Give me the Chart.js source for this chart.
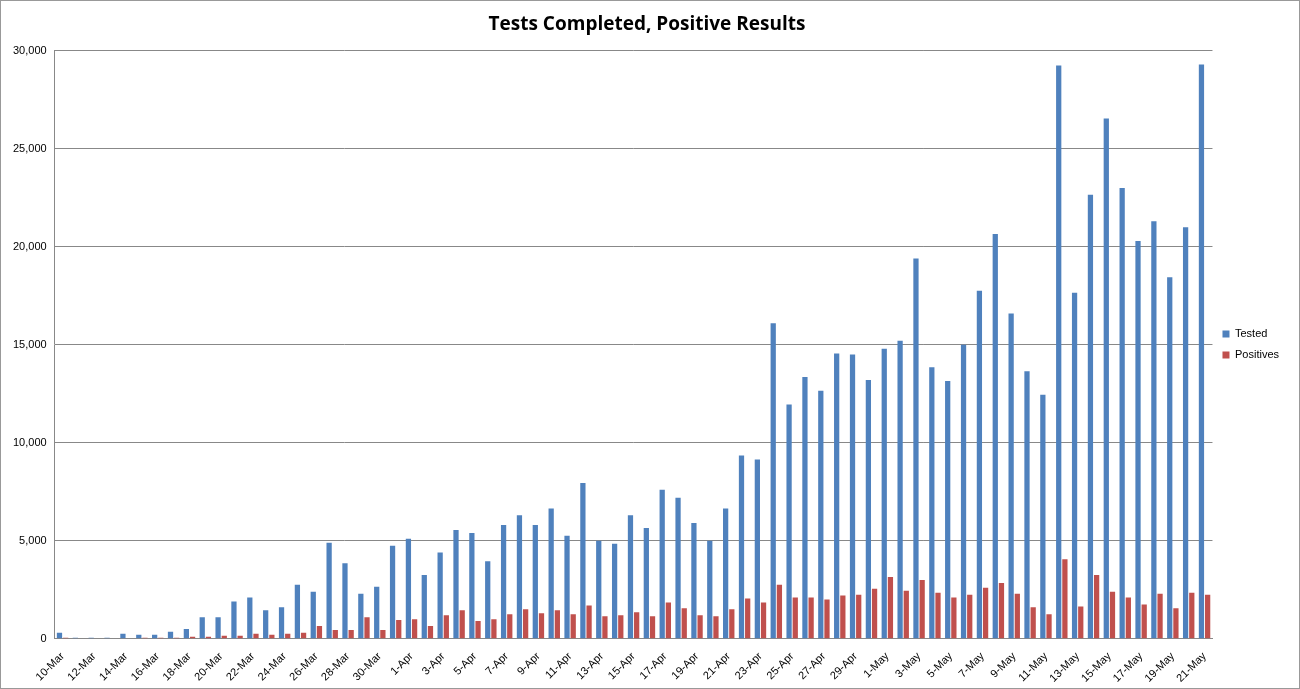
<!DOCTYPE html>
<html><head><meta charset="utf-8">
<script src="https://cdn.jsdelivr.net/npm/chart.js@4"></script>
<style>html,body{margin:0;padding:0;background:#fff}#w{width:1298px;height:687px;border:1px solid #999;position:relative}</style>
</head><body><div id="w"><canvas id="c"></canvas></div>
<script>
const categories=["10-Mar","11-Mar","12-Mar","13-Mar","14-Mar","15-Mar","16-Mar","17-Mar","18-Mar","19-Mar","20-Mar","21-Mar","22-Mar","23-Mar","24-Mar","25-Mar","26-Mar","27-Mar","28-Mar","29-Mar","30-Mar","31-Mar",
"1-Apr","2-Apr","3-Apr","4-Apr","5-Apr","6-Apr","7-Apr","8-Apr","9-Apr","10-Apr","11-Apr","12-Apr","13-Apr","14-Apr","15-Apr","16-Apr","17-Apr","18-Apr","19-Apr","20-Apr","21-Apr","22-Apr","23-Apr","24-Apr","25-Apr","26-Apr","27-Apr","28-Apr","29-Apr","30-Apr",
"1-May","2-May","3-May","4-May","5-May","6-May","7-May","8-May","9-May","10-May","11-May","12-May","13-May","14-May","15-May","16-May","17-May","18-May","19-May","20-May","21-May"];
const tested=[300,50,50,50,250,200,200,350,500,1100,1100,1900,2100,1450,1600,2750,2400,4900,3850,2300,2650,4750,
5100,3250,4400,5550,5400,3950,5800,6300,5800,6650,5250,7950,5000,4850,6300,5650,7600,7200,5900,5000,6650,9350,9150,16100,11950,13350,12650,14550,14500,13200,
14800,15200,19400,13850,13150,15000,17750,20650,16600,13650,12450,29250,17650,22650,26550,23000,20300,21300,18450,21000,29300];
const positives=[50,30,30,30,30,50,50,50,100,100,150,150,250,200,250,300,650,450,450,1100,450,950,
1000,650,1200,1450,900,1000,1250,1500,1300,1450,1250,1700,1150,1200,1350,1150,1850,1550,1200,1150,1500,2050,1850,2750,2100,2100,2000,2200,2250,2550,
3150,2450,3000,2350,2100,2250,2600,2850,2300,1600,1250,4050,1650,3250,2400,2100,1750,2300,1550,2350,2250];
const yTicks=[0,5000,10000,15000,20000,25000,30000];
new Chart(document.getElementById('c'),{
type:'bar',
data:{labels:categories,datasets:[
{label:'Tested',data:tested,backgroundColor:'#4f81bd',barPercentage:0.85,categoryPercentage:0.78},
{label:'Positives',data:positives,backgroundColor:'#c0504d',barPercentage:0.85,categoryPercentage:0.78}]},
options:{responsive:true,maintainAspectRatio:false,animation:false,
layout:{padding:{left:4,right:10,top:0,bottom:0}},
plugins:{title:{display:true,text:'Tests Completed, Positive Results',font:{family:'"Open Sans", "Liberation Sans", sans-serif',size:19,weight:'bold'},color:'#000',padding:{top:12,bottom:15}},
legend:{position:'right',labels:{boxWidth:7,boxHeight:7,font:{family:'"Liberation Sans", sans-serif',size:11},color:'#000',padding:10}},
tooltip:{enabled:false}},
scales:{
x:{grid:{display:false},border:{color:'#888'},ticks:{autoSkip:false,maxRotation:45,minRotation:45,color:'#000',font:{family:'"Liberation Sans", sans-serif',size:11},
callback:function(v,i){return i%2===0?categories[i]:'';}}},
y:{min:0,max:30000,afterBuildTicks:a=>{a.ticks=yTicks.map(v=>({value:v}));},grid:{color:'#888',drawTicks:false},border:{color:'#888'},
ticks:{color:'#000',padding:8,font:{family:'"Liberation Sans", sans-serif',size:11}}}}}
});
</script></body></html>
